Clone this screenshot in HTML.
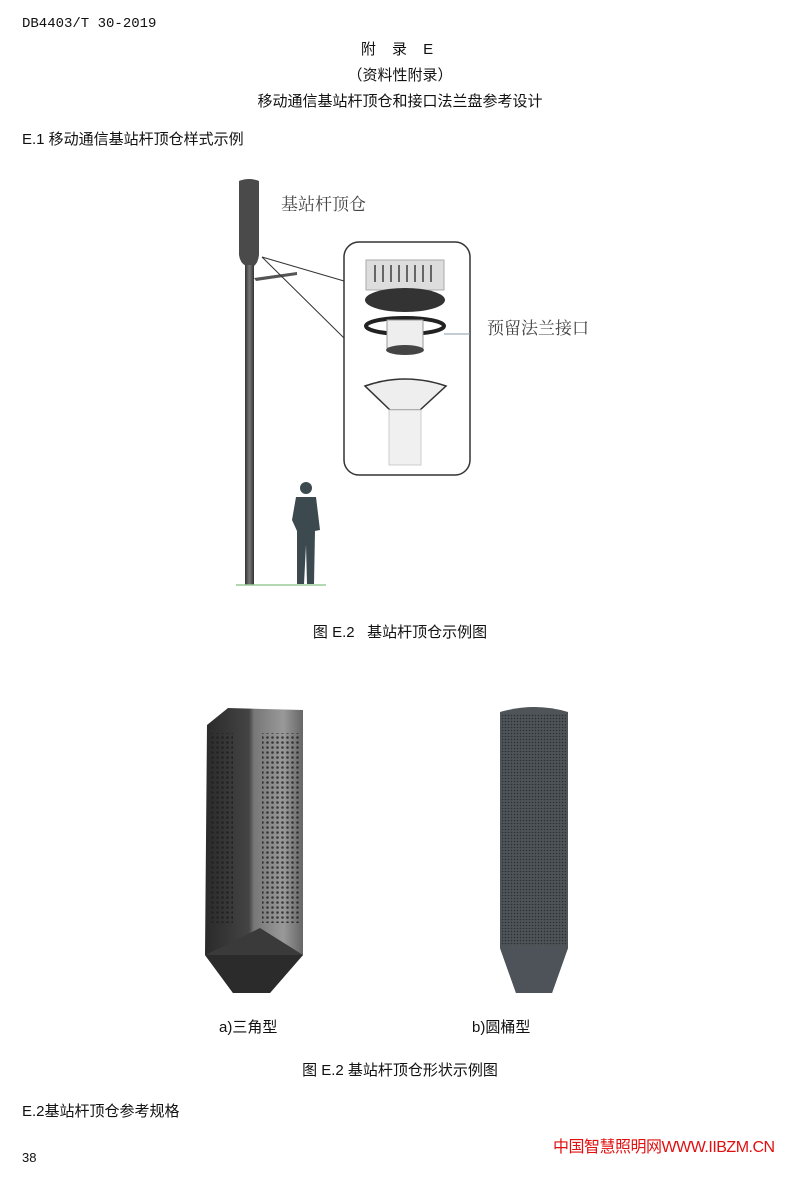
<!DOCTYPE html>
<html><head><meta charset="utf-8"><style>
body{margin:0;width:800px;height:1177px;background:#fff;position:relative;overflow:hidden;font-family:"Liberation Sans","Noto Sans CJK SC",sans-serif;color:#111}
.t{position:absolute;white-space:nowrap}
.s{font-family:"Liberation Serif","Noto Serif CJK SC",serif;color:#444}
</style></head><body>
<div class="t" style="left:22px;top:16px;font-size:14px;font-family:'Liberation Mono','Noto Sans CJK SC',monospace">DB4403/T 30-2019</div>
<div class="t" style="left:0;width:800px;text-align:center;top:38px;font-size:15px;letter-spacing:6px">附 录 E</div>
<div class="t" style="left:0;width:800px;text-align:center;top:64px;font-size:15px">（资料性附录）</div>
<div class="t" style="left:0;width:800px;text-align:center;top:90px;font-size:15px">移动通信基站杆顶仓和接口法兰盘参考设计</div>
<div class="t" style="left:22px;top:128px;font-size:15px">E.1 移动通信基站杆顶仓样式示例</div>

<svg style="position:absolute;left:0;top:0" width="800" height="1177">
<defs>
<linearGradient id="pg" x1="0" x2="1"><stop offset="0" stop-color="#333"/><stop offset=".5" stop-color="#777"/><stop offset="1" stop-color="#333"/></linearGradient>
<linearGradient id="tg" x1="0" x2="1"><stop offset="0" stop-color="#2a2a2a"/><stop offset=".45" stop-color="#444"/><stop offset=".5" stop-color="#777"/><stop offset=".8" stop-color="#999"/><stop offset="1" stop-color="#666"/></linearGradient>
<pattern id="dots" width="5" height="5" patternUnits="userSpaceOnUse"><circle cx="2.5" cy="2.5" r="1.3" fill="#222"/></pattern>
<pattern id="mesh" width="3" height="3" patternUnits="userSpaceOnUse"><circle cx="1.5" cy="1.5" r=".8" fill="#2a2f33"/></pattern>
</defs>
<path d="M239 181 Q249 177 259 181 L259 255 Q258 263 254 266 L246 266 Q240 263 239 255Z" fill="#4a4a4a"/>
<rect x="245" y="265" width="9" height="320" fill="url(#pg)"/>
<line x1="236" y1="585" x2="326" y2="585" stroke="#9c9" stroke-width="1.5"/>
<path d="M254 278 L297 272 L297 275 L256 281Z" fill="#555"/>
<line x1="262" y1="257" x2="344" y2="281" stroke="#333"/>
<line x1="262" y1="257" x2="346" y2="340" stroke="#333"/>
<rect x="344" y="242" width="126" height="233" rx="15" fill="#fff" stroke="#333" stroke-width="1.5"/>
<rect x="366" y="260" width="78" height="30" fill="#ddd" stroke="#aaa"/>
<g stroke="#666" stroke-width="2"><line x1="375" y1="265" x2="375" y2="282"/><line x1="383" y1="265" x2="383" y2="282"/><line x1="391" y1="265" x2="391" y2="282"/><line x1="399" y1="265" x2="399" y2="282"/><line x1="407" y1="265" x2="407" y2="282"/><line x1="415" y1="265" x2="415" y2="282"/><line x1="423" y1="265" x2="423" y2="282"/><line x1="431" y1="265" x2="431" y2="282"/></g>
<ellipse cx="405" cy="300" rx="40" ry="12" fill="#333"/>
<ellipse cx="405" cy="326" rx="39" ry="8" fill="none" stroke="#222" stroke-width="4"/>
<rect x="387" y="320" width="36" height="28" fill="#eee" stroke="#999"/>
<ellipse cx="405" cy="350" rx="19" ry="5" fill="#444"/>
<path d="M365 386 Q405 372 446 386 L420 410 L390 410Z" fill="#eee" stroke="#333" stroke-width="1.5"/>
<rect x="389" y="410" width="32" height="55" fill="#f0f0f0" stroke="#ccc"/>
<line x1="444" y1="334" x2="470" y2="334" stroke="#89a"/>
<circle cx="306" cy="488" r="6" fill="#3c4a50"/>
<path d="M296 497 L316 497 L320 530 L315 531 L314 584 L307 584 L306 545 L304 584 L297 584 L297 531 L292 520Z" fill="#3c4a50"/>
<path d="M207 725 L228 708 L303 710 L303 955 L270 993 L233 993 L205 955Z" fill="url(#tg)"/>
<rect x="211" y="733" width="22" height="190" fill="url(#dots)"/>
<rect x="262" y="733" width="38" height="190" fill="url(#dots)" opacity=".8"/>
<path d="M205 955 L303 955 L270 993 L233 993Z" fill="#2b2b2b"/>
<path d="M205 955 L260 928 L303 955Z" fill="#3a3a3a"/>
<path d="M500 712 Q535 702 568 712 L568 948 L552 993 L516 993 L500 948Z" fill="#4e5458"/>
<rect x="502" y="714" width="64" height="232" fill="url(#mesh)"/>
<path d="M500 948 L568 948 L552 993 L516 993Z" fill="#4d5358"/>
</svg>

<div class="t s" style="left:281px;top:190px;font-size:17px">基站杆顶仓</div>
<div class="t s" style="left:487px;top:314px;font-size:17px">预留法兰接口</div>
<div class="t" style="left:0;width:800px;text-align:center;top:621px;font-size:15px">图 E.2&nbsp;&nbsp; 基站杆顶仓示例图</div>
<div class="t" style="left:219px;top:1016px;font-size:15px">a)三角型</div>
<div class="t" style="left:472px;top:1016px;font-size:15px">b)圆桶型</div>
<div class="t" style="left:0;width:800px;text-align:center;top:1059px;font-size:15px">图 E.2 基站杆顶仓形状示例图</div>
<div class="t" style="left:22px;top:1100px;font-size:15px">E.2基站杆顶仓参考规格</div>
<div class="t" style="left:22px;top:1150px;font-size:13px">38</div>
<div class="t" style="left:553px;top:1133px;font-size:16px;letter-spacing:-0.5px;color:#e01010">中国智慧照明网WWW.IIBZM.CN</div>
</body></html>
